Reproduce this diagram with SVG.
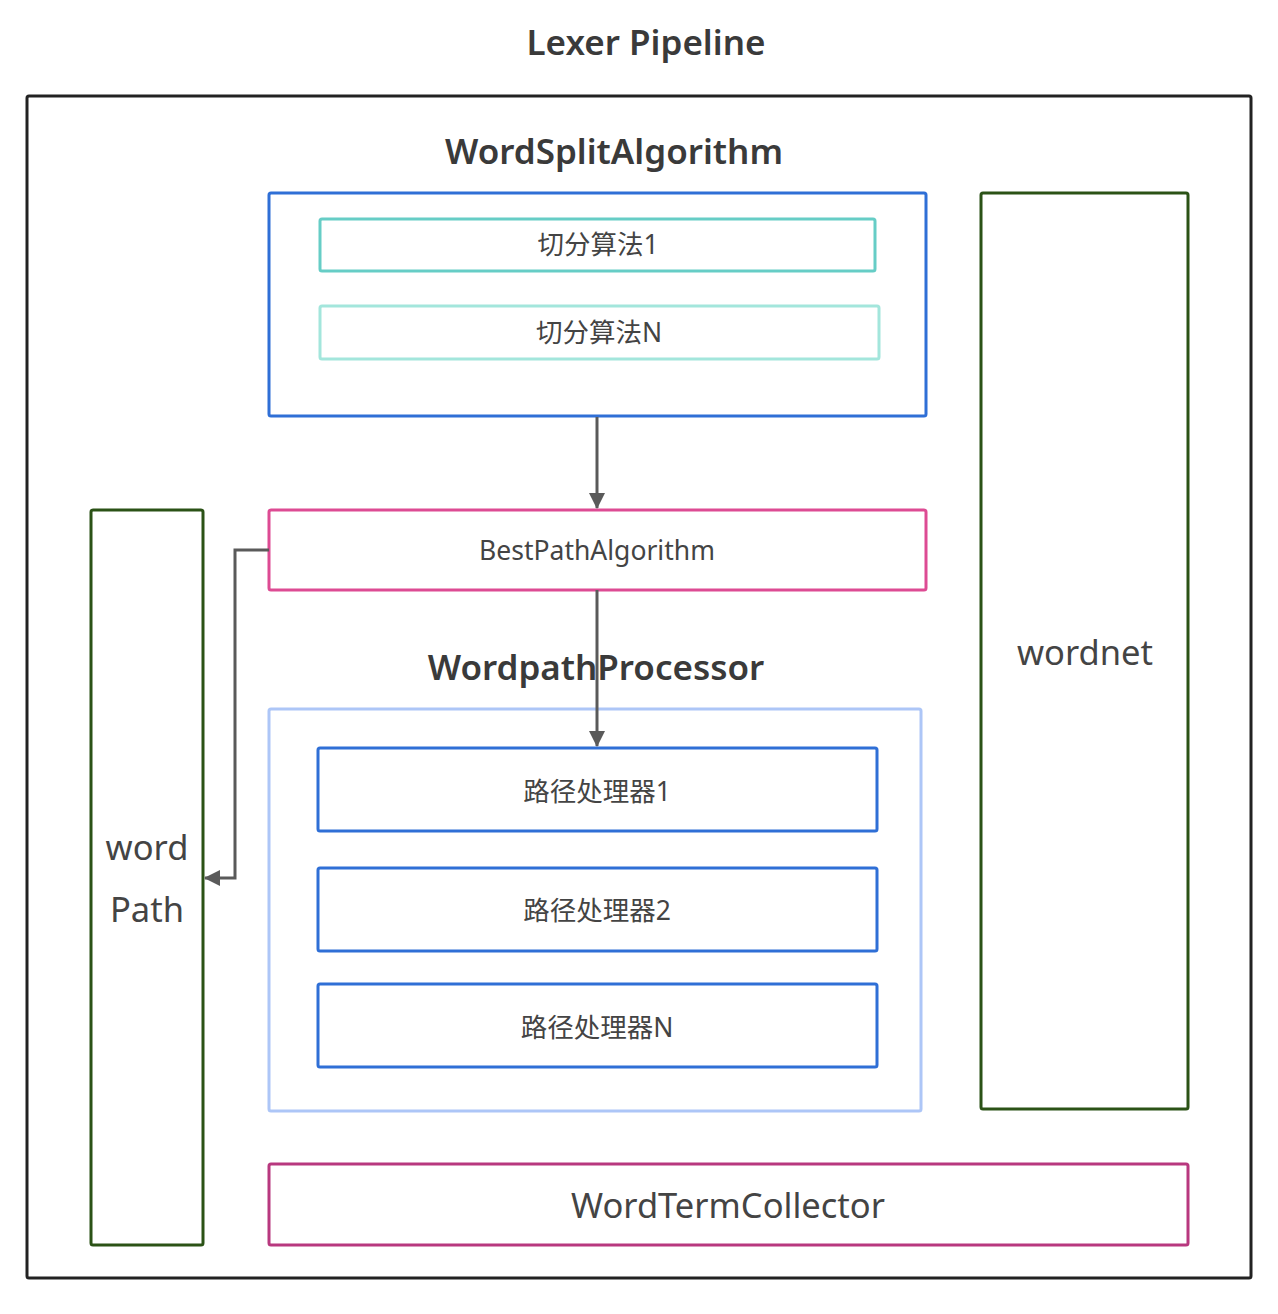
<svg xmlns="http://www.w3.org/2000/svg" width="1278" height="1314" viewBox="0 0 1278 1314">
<style>
text{font-family:"Noto Sans","Noto Sans CJK SC",sans-serif;fill:#444;text-anchor:middle;dominant-baseline:central}
.t{font-size:35px;font-weight:600;fill:#3a3a3a}
.m{font-size:26.5px}
.l{font-size:34.5px}
rect{fill:none;stroke-width:3}
.conn{fill:none;stroke:#5a5a5a;stroke-width:3}
</style>
<defs>
<marker id="a" viewBox="0 0 16 16" refX="15" refY="8" markerWidth="16" markerHeight="16" markerUnits="userSpaceOnUse" orient="auto">
<path d="M0,0 L16,8 L0,16 z" fill="#5a5a5a"/>
</marker>
</defs>
<rect width="1278" height="1314" style="fill:#fff;stroke:none"/>
<text class="t" x="646" y="41">Lexer Pipeline</text>
<g id="pipeline"><rect x="27" y="96" width="1224" height="1182" rx="2" stroke="#222"/></g>
<g id="wordsplit">
<text class="t" x="614" y="150">WordSplitAlgorithm</text>
<rect x="269" y="193" width="657" height="223" rx="2" stroke="#2f6fd6"/>
</g>
<g id="split1"><rect x="320" y="219" width="555" height="52" rx="2" stroke="#66cdc6"/><text class="m" x="598" y="244">切分算法1</text></g>
<g id="splitN"><rect x="320" y="306" width="559" height="53" rx="2" stroke="#a3e6dc"/><text class="m" x="599" y="332">切分算法N</text></g>
<g id="bestpath"><rect x="269" y="510" width="657" height="80" rx="2" stroke="#dd4b93"/><text class="m" x="597" y="550">BestPathAlgorithm</text></g>
<g id="wordpath"><rect x="91" y="510" width="112" height="735" rx="2" stroke="#2b5216"/><text class="l" x="147" y="846">word</text><text class="l" x="147" y="908">Path</text></g>
<g id="wordnet"><rect x="981" y="193" width="207" height="916" rx="2" stroke="#2b5216"/><text class="l" x="1085" y="651">wordnet</text></g>
<g id="processor">
<text class="t" x="596" y="666">WordpathProcessor</text>
<rect x="269" y="709" width="652" height="402" rx="2" stroke="#adc6f7"/>
</g>
<g id="proc1"><rect x="318" y="748" width="559" height="83" rx="2" stroke="#2f6fd6"/><text class="m" x="597" y="791">路径处理器1</text></g>
<g id="proc2"><rect x="318" y="868" width="559" height="83" rx="2" stroke="#2f6fd6"/><text class="m" x="597" y="910">路径处理器2</text></g>
<g id="procN"><rect x="318" y="984" width="559" height="83" rx="2" stroke="#2f6fd6"/><text class="m" x="597" y="1027">路径处理器N</text></g>
<g id="collector"><rect x="269" y="1164" width="919" height="81" rx="2" stroke="#b8387f"/><text class="l" x="728" y="1204">WordTermCollector</text></g>
<g id="connectors">
<path class="conn" d="M597,417 V508" marker-end="url(#a)"/>
<path class="conn" d="M597,590 V746" marker-end="url(#a)"/>
<path class="conn" d="M269,550 H235 V878 H205" marker-end="url(#a)"/>
</g>
</svg>
